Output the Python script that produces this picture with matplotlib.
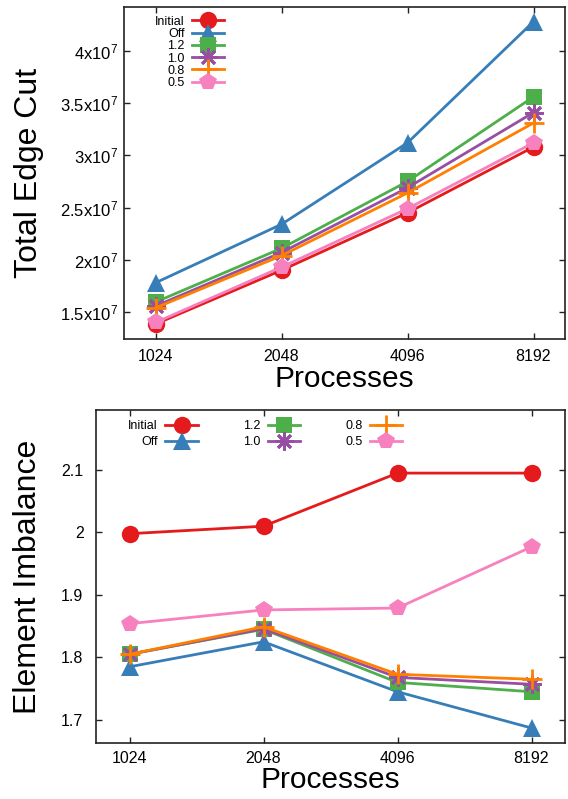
import matplotlib
matplotlib.use('Agg')
import matplotlib.pyplot as plt
from matplotlib.ticker import FixedLocator, FuncFormatter, NullLocator

plt.rcParams['font.family'] = ['Liberation Sans', 'DejaVu Sans']
plt.rcParams['mathtext.fontset'] = 'custom'
plt.rcParams['mathtext.rm'] = 'Liberation Sans'
plt.rcParams['mathtext.it'] = 'Liberation Sans:italic'

# Data
processes = [1024, 2048, 4096, 8192]
labels = ['Initial', 'Off', '1.2', '1.0', '0.8', '0.5']

edge_cut_initial = [1.385e7, 1.90e7, 2.45e7, 3.08e7]
edge_cut_off = [1.78e7, 2.34e7, 3.12e7, 4.28e7]
edge_cut_12 = [1.595e7, 2.11e7, 2.75e7, 3.56e7]
edge_cut_10 = [1.557e7, 2.07e7, 2.69e7, 3.41e7]
edge_cut_08 = [1.54e7, 2.04e7, 2.64e7, 3.31e7]
edge_cut_05 = [1.40e7, 1.93e7, 2.49e7, 3.12e7]

imb_initial = [1.998, 2.010, 2.095, 2.095]
imb_off = [1.785, 1.825, 1.745, 1.687]
imb_12 = [1.805, 1.845, 1.760, 1.745]
imb_10 = [1.805, 1.846, 1.768, 1.757]
imb_08 = [1.805, 1.849, 1.773, 1.765]
imb_05 = [1.854, 1.876, 1.879, 1.977]

edge_cut = [edge_cut_initial, edge_cut_off, edge_cut_12, edge_cut_10, edge_cut_08, edge_cut_05]
imbalance = [imb_initial, imb_off, imb_12, imb_10, imb_08, imb_05]

# Styles
colors = ['#e41a1c', '#377eb8', '#4daf4a', '#984ea3', '#ff7f00', '#f781bf']
markers = ['o', '^', 's', (8, 2, 0), '+', 'p']
msizes = [12.5, 13, 12, 13, 14, 13]
mews = [0, 0, 0, 2, 2, 0]

W, H = 568, 799
fig = plt.figure(figsize=(W / 100, H / 100), dpi=100)

def px_axes(l, t, r, b):
    return fig.add_axes([l / W, 1 - b / H, (r - l) / W, (b - t) / H])

ax1 = px_axes(124, 7, 565, 339)
ax2 = px_axes(96, 410, 565, 743)

def style_axes(ax, ylim, pad_y, xpad, tpad):
    ax.set_xscale('log', base=2)
    ax.set_xlim(1024 / 2 ** 0.25, 8192 * 2 ** 0.25)
    ax.set_ylim(*ylim)
    ax.xaxis.set_major_locator(FixedLocator(processes))
    ax.xaxis.set_major_formatter(FuncFormatter(lambda v, p: '%d' % v))
    ax.xaxis.set_minor_locator(NullLocator())
    ax.tick_params(direction='in', length=4, width=1, top=True, right=True,
                   labelsize=11.5, color='#222222')
    ax.tick_params(axis='x', pad=tpad)
    ax.tick_params(axis='y', pad=pad_y)
    for s in ax.spines.values():
        s.set_linewidth(1.2)
        s.set_color('#222222')
    ax.set_xlabel('Processes', fontsize=21.5, labelpad=xpad)

def draw(ax, series):
    lines = []
    for vals, lab, c, m, ms, mew in zip(series, labels, colors, markers, msizes, mews):
        ln, = ax.plot(processes, vals, color=c, marker=m, markersize=ms,
                      markeredgewidth=mew, markeredgecolor=c, linewidth=2, label=lab,
                      clip_on=False)
        lines.append(ln)
    return lines

# Top panel: total edge cut
lines1 = draw(ax1, edge_cut)
style_axes(ax1, (1.242e7, 4.42e7), 4, 1, 7)
ax1.yaxis.set_major_locator(FixedLocator([1.5e7, 2e7, 2.5e7, 3e7, 3.5e7, 4e7]))
ax1.yaxis.set_major_formatter(FuncFormatter(lambda v, p: ('%g' % (v / 1e7)) + r'x10$^{7}$'))
ax1.tick_params(axis='y', labelsize=12)
ax1.set_ylabel('Total Edge Cut', fontsize=23)
ax1.yaxis.set_label_coords(-0.181, 0.5)
ax1.legend(handles=lines1, loc='upper left', bbox_to_anchor=(0.05, 1.0),
           frameon=False, markerfirst=False, fontsize=9, handlelength=2.6,
           handletextpad=0.6, labelspacing=0.02, borderpad=0.2)

# Bottom panel: element imbalance
lines2 = draw(ax2, imbalance)
style_axes(ax2, (1.663, 2.196), 9, 0, 5.5)
ax2.yaxis.set_major_locator(FixedLocator([1.7, 1.8, 1.9, 2.0, 2.1]))
ax2.yaxis.set_major_formatter(FuncFormatter(lambda v, p: '%g' % v))
ax2.set_ylabel('Element Imbalance', fontsize=23)
ax2.yaxis.set_label_coords(-0.113, 0.5)
ax2.legend(handles=lines2, loc='upper left', bbox_to_anchor=(0.05, 0.995), ncol=3,
           frameon=False, markerfirst=False, fontsize=9, handlelength=2.6,
           handletextpad=0.6, labelspacing=0.3, columnspacing=3.6, borderpad=0.2)

fig.savefig('out.png', dpi=100)
